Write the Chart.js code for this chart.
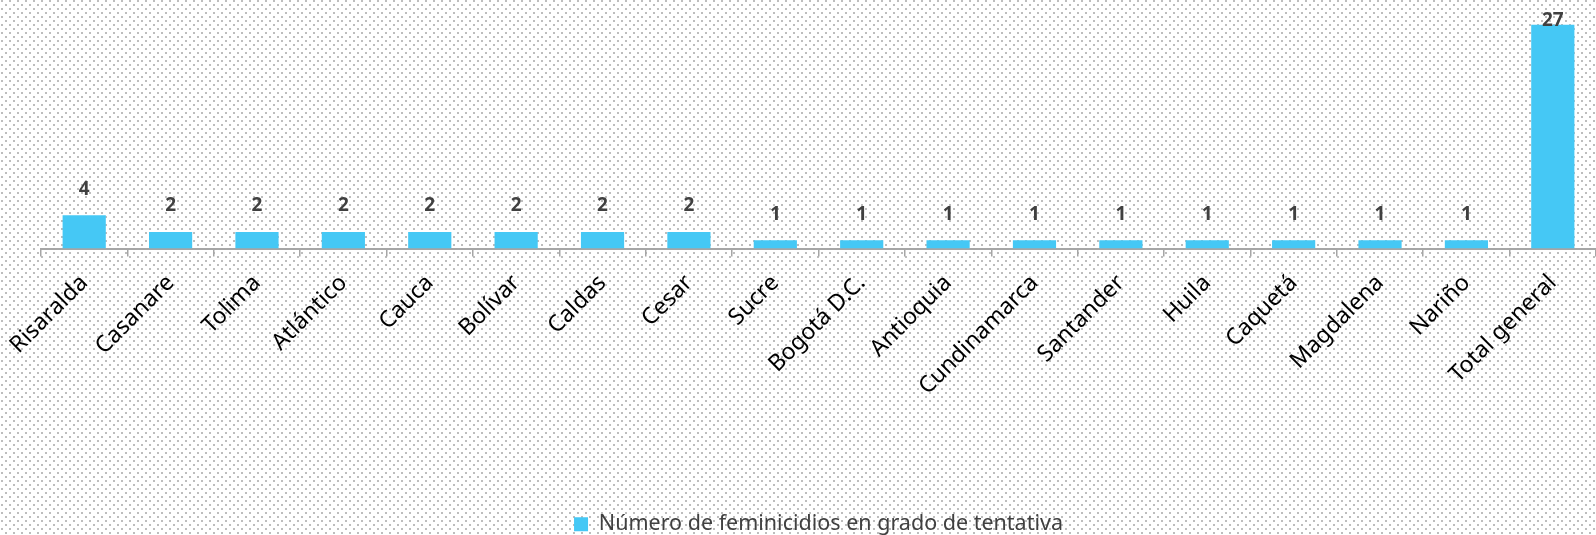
<!DOCTYPE html>
<html>
<head>
<meta charset="utf-8">
<script src="https://cdn.jsdelivr.net/npm/chart.js@4.4.1/dist/chart.umd.min.js"></script>
<style>
    html, body { margin: 0; padding: 0; background: #fff; }
    #wrap { width: 1596px; height: 535px; }
</style>
</head>
<body>
<div id="wrap"><canvas id="chart"></canvas></div>
<script>
const departamentos = ["Risaralda", "Casanare", "Tolima", "Atlántico", "Cauca", "Bolívar", "Caldas", "Cesar",
    "Sucre", "Bogotá D.C.", "Antioquia", "Cundinamarca", "Santander", "Huila", "Caquetá", "Magdalena", "Nariño",
    "Total general"];
const tentativas = [4, 2, 2, 2, 2, 2, 2, 2, 1, 1, 1, 1, 1, 1, 1, 1, 1, 27];
const serieNombre = "Número de feminicidios en grado de tentativa";

const barColor = "#45c8f5";

// dotted background like the excel chart area
const dottedBackground = {
    id: "dottedBackground",
    beforeDraw(chart) {
        let ctx = chart.ctx;
        let tile = document.createElement("canvas");
        tile.width = 8;
        tile.height = 8;
        let t = tile.getContext("2d");
        t.fillStyle = "#ffffff";
        t.fillRect(0, 0, 8, 8);
        t.fillStyle = "#bdbdbd";
        t.fillRect(1, 0, 2, 2);
        t.fillRect(5, 4, 2, 2);
        ctx.save();
        ctx.fillStyle = ctx.createPattern(tile, "repeat");
        ctx.fillRect(0, 0, chart.width, chart.height);
        ctx.restore();
    }
};

// value labels above bars
const valueLabels = {
    id: "valueLabels",
    afterDatasetsDraw(chart) {
        let ctx = chart.ctx;
        let meta = chart.getDatasetMeta(0);
        ctx.save();
        ctx.font = "bold 19px 'Noto Sans'";
        ctx.fillStyle = "#404040";
        ctx.textAlign = "center";
        ctx.textBaseline = "middle";
        meta.data.forEach((bar, i) => {
            let y = Math.max(bar.y - 26, 21);
            ctx.fillText(tentativas[i], bar.x, y);
        });
        ctx.restore();
    }
};

new Chart("chart", {
    type: "bar",
    data: {
        labels: departamentos,
        datasets: [{
            label: serieNombre,
            data: tentativas,
            backgroundColor: barColor,
            borderWidth: 0,
            categoryPercentage: 1,
            barPercentage: 0.5
        }]
    },
    options: {
        responsive: true,
        maintainAspectRatio: false,
        animation: false,
        layout: {
            padding: { left: 41, right: 0, top: 0, bottom: -10 }
        },
        scales: {
            x: {
                grid: {
                    display: true,
                    offset: true,
                    drawOnChartArea: false,
                    drawTicks: true,
                    tickLength: 8,
                    color: "#a6a6a6",
                    lineWidth: 1.5
                },
                border: {
                    display: true,
                    color: "#a6a6a6",
                    width: 2
                },
                ticks: {
                    minRotation: 45,
                    maxRotation: 45,
                    autoSkip: false,
                    padding: 13,
                    color: "#000000",
                    font: { family: "'Noto Sans'", size: 23 }
                },
                afterFit(scale) {
                    scale.height = 259;
                }
            },
            y: {
                display: false,
                min: 0,
                max: 30
            }
        },
        plugins: {
            legend: {
                display: true,
                position: "bottom",
                labels: {
                    boxWidth: 14,
                    boxHeight: 14,
                    padding: 6,
                    color: "#404040",
                    font: { family: "'Noto Sans'", size: 21.5 }
                }
            },
            tooltip: { enabled: false }
        }
    },
    plugins: [dottedBackground, valueLabels]
});
</script>
</body>
</html>
